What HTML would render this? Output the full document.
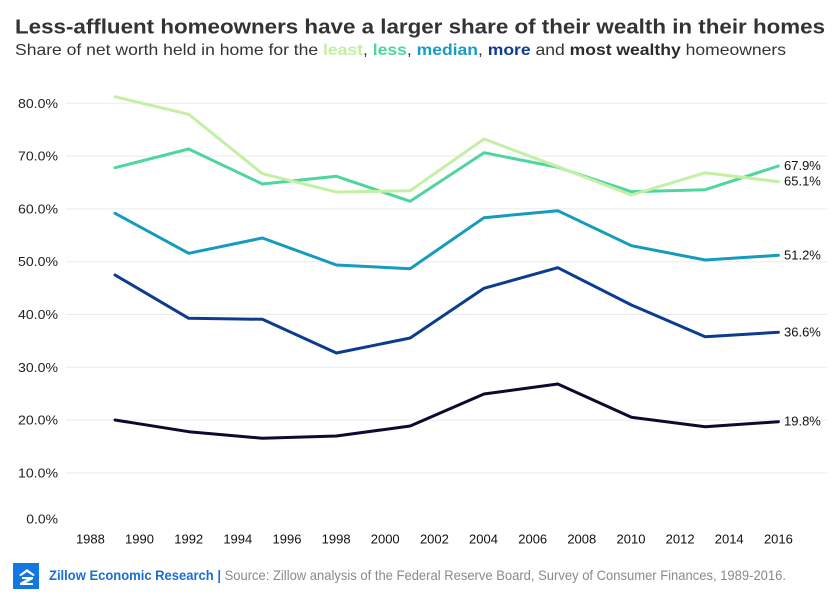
<!DOCTYPE html>
<html><head><meta charset="utf-8">
<style>
html,body{margin:0;padding:0;background:#fff;}
svg{display:block;font-family:"Liberation Sans",Arial,sans-serif;}
</style></head>
<body>
<svg width="840" height="600" viewBox="0 0 840 600" xmlns="http://www.w3.org/2000/svg">
<rect width="840" height="600" fill="#fff"/>
<text x="15" y="33.5" font-size="20" font-weight="bold" fill="#333" textLength="810" lengthAdjust="spacingAndGlyphs">Less-affluent homeowners have a larger share of their wealth in their homes</text>
<text x="15" y="55" font-size="16" fill="#333" textLength="771" lengthAdjust="spacingAndGlyphs">Share of net worth held in home for the <tspan font-weight="bold" fill="#c3efa3">least</tspan>, <tspan font-weight="bold" fill="#4fd59e">less</tspan>, <tspan font-weight="bold" fill="#179dc0">median</tspan>, <tspan font-weight="bold" fill="#0d3d91">more</tspan> and <tspan font-weight="bold" fill="#2b2b2b">most wealthy</tspan> homeowners</text>

<g stroke="#ebebeb" stroke-width="1">
<line x1="66" x2="827" y1="103.3" y2="103.3"/>
<line x1="66" x2="827" y1="156.1" y2="156.1"/>
<line x1="66" x2="827" y1="208.9" y2="208.9"/>
<line x1="66" x2="827" y1="261.7" y2="261.7"/>
<line x1="66" x2="827" y1="314.5" y2="314.5"/>
<line x1="66" x2="827" y1="367.3" y2="367.3"/>
<line x1="66" x2="827" y1="420.1" y2="420.1"/>
<line x1="66" x2="827" y1="472.9" y2="472.9"/>
</g>

<g font-size="12.5" fill="#222" text-anchor="end">
<text x="58" y="107.8" textLength="40" lengthAdjust="spacingAndGlyphs">80.0%</text>
<text x="58" y="160.6" textLength="40" lengthAdjust="spacingAndGlyphs">70.0%</text>
<text x="58" y="213.4" textLength="40" lengthAdjust="spacingAndGlyphs">60.0%</text>
<text x="58" y="266.2" textLength="40" lengthAdjust="spacingAndGlyphs">50.0%</text>
<text x="58" y="319" textLength="40" lengthAdjust="spacingAndGlyphs">40.0%</text>
<text x="58" y="371.8" textLength="40" lengthAdjust="spacingAndGlyphs">30.0%</text>
<text x="58" y="424.6" textLength="40" lengthAdjust="spacingAndGlyphs">20.0%</text>
<text x="58" y="477.4" textLength="40" lengthAdjust="spacingAndGlyphs">10.0%</text>
<text x="58" y="523.3" textLength="31.7" lengthAdjust="spacingAndGlyphs">0.0%</text>
</g>

<g font-size="13" fill="#111" text-anchor="middle">
<text x="90.4" y="543.3">1988</text>
<text x="139.5" y="543.3">1990</text>
<text x="188.7" y="543.3">1992</text>
<text x="237.8" y="543.3">1994</text>
<text x="287" y="543.3">1996</text>
<text x="336.1" y="543.3">1998</text>
<text x="385.2" y="543.3">2000</text>
<text x="434.4" y="543.3">2002</text>
<text x="483.5" y="543.3">2004</text>
<text x="532.7" y="543.3">2006</text>
<text x="581.8" y="543.3">2008</text>
<text x="631" y="543.3">2010</text>
<text x="680.1" y="543.3">2012</text>
<text x="729.2" y="543.3">2014</text>
<text x="778.4" y="543.3">2016</text>
</g>

<g fill="none" stroke-width="3" stroke-linejoin="round" stroke-linecap="round">
<polyline stroke="#0b0b30" points="115,420 188.7,431.7 262.4,438.3 336.4,436 410.2,426 484,394 557.8,384 631.4,417.3 705.2,426.7 778.4,421.7"/>
<polyline stroke="#0c3c8e" points="115,275 188.7,318.3 262.4,319.3 336.4,353 410.2,338 484,288.3 557.8,267.7 631.4,305 705.2,336.7 778.4,332.3"/>
<polyline stroke="#159bbd" points="115,213.3 188.7,253.3 262.4,238 336.4,265 410.2,268.7 484,217.7 557.8,210.7 631.4,245.7 705.2,260 778.4,255.3"/>
<polyline stroke="#50d59f" points="115,167.7 188.7,149 262.4,184 336.4,176.3 410.2,201.3 484,152.7 557.8,167.3 631.4,191.7 705.2,189.7 778.4,166"/>
<polyline stroke="#c4f0a5" points="115,96.7 188.7,114.3 262.4,173.7 336.4,192 410.2,190.7 484,139 557.8,166.7 631.4,195 705.2,172.7 778.4,181.7"/>
</g>

<g font-size="13" fill="#111">
<text x="784" y="170">67.9%</text>
<text x="784" y="185.7">65.1%</text>
<text x="784" y="259.3">51.2%</text>
<text x="784" y="336.5">36.6%</text>
<text x="784" y="425.5">19.8%</text>
</g>

<rect x="13" y="563" width="26" height="26" fill="#1277e1"/>
<g fill="#fff">
<polygon points="19,575 27,569 35,575 33,576 27,572 21,576"/>
<polygon points="22,577 33,577 33,579 26,583 33,583 33,585 20,585 20,583 27,579 22,579"/>
</g>
<text x="49" y="580" font-size="14" textLength="737" lengthAdjust="spacingAndGlyphs"><tspan font-weight="bold" fill="#1a6fd6">Zillow Economic Research |</tspan><tspan fill="#8a8a8a"> Source: Zillow analysis of the Federal Reserve Board, Survey of Consumer Finances, 1989-2016.</tspan></text>
</svg>
</body></html>
